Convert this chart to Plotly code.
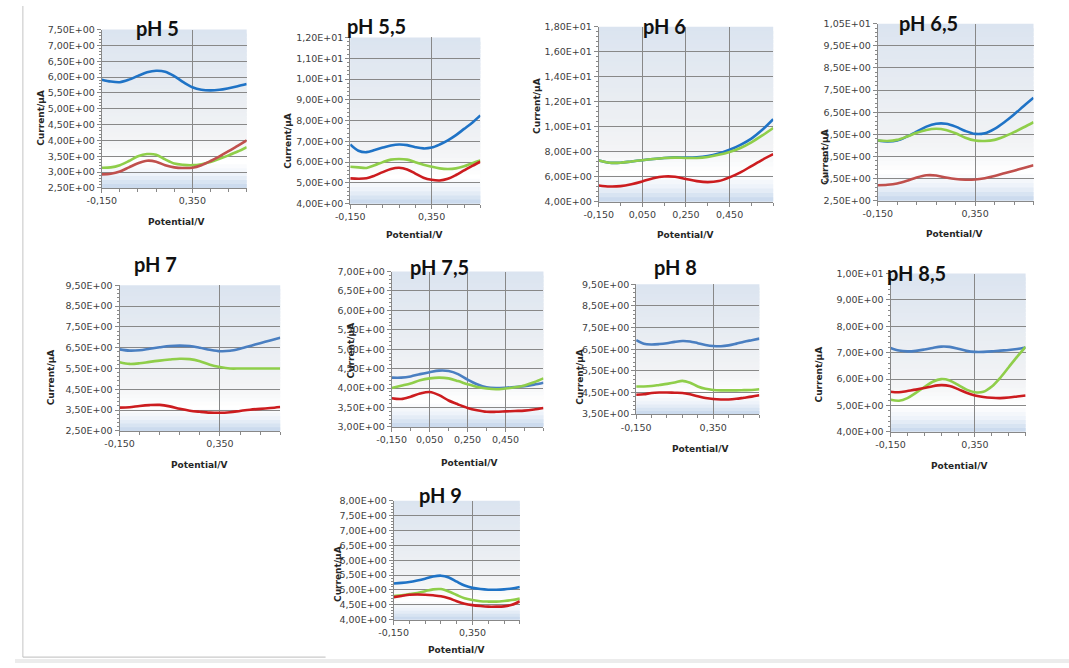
import plotly.graph_objects as go

# Potential sweep shared by every voltammogram (V)
POTENTIAL_V = [-0.15, -0.10, -0.05, 0.00, 0.05, 0.10, 0.15, 0.20, 0.25,
               0.30, 0.35, 0.40, 0.45, 0.50, 0.55, 0.60, 0.65]

# Current (µA) for the three electrodes at each pH
PH5_BLUE = [5.92, 5.86, 5.84, 5.92, 6.04, 6.15, 6.20, 6.17, 6.03, 5.84, 5.68, 5.60, 5.58, 5.60, 5.65, 5.71, 5.78]
PH5_GREEN = [3.14, 3.15, 3.22, 3.35, 3.50, 3.57, 3.55, 3.40, 3.27, 3.23, 3.22, 3.25, 3.32, 3.42, 3.53, 3.65, 3.79]
PH5_RED = [2.93, 2.95, 3.02, 3.15, 3.28, 3.36, 3.33, 3.22, 3.15, 3.13, 3.14, 3.22, 3.35, 3.50, 3.66, 3.83, 4.00]

PH55_BLUE = [6.85, 6.55, 6.48, 6.58, 6.70, 6.80, 6.85, 6.82, 6.72, 6.66, 6.70, 6.85, 7.05, 7.30, 7.60, 7.90, 8.25]
PH55_GREEN = [5.78, 5.75, 5.72, 5.85, 6.00, 6.12, 6.15, 6.12, 6.00, 5.88, 5.78, 5.70, 5.67, 5.70, 5.80, 5.95, 6.08]
PH55_RED = [5.22, 5.20, 5.22, 5.35, 5.52, 5.67, 5.73, 5.65, 5.45, 5.25, 5.15, 5.12, 5.20, 5.38, 5.60, 5.82, 6.02]

PH6_BLUE = [7.30, 7.12, 7.12, 7.22, 7.32, 7.42, 7.50, 7.55, 7.53, 7.55, 7.65, 7.85, 8.15, 8.55, 9.05, 9.75, 10.60]
PH6_GREEN = [7.30, 7.12, 7.12, 7.22, 7.32, 7.42, 7.50, 7.53, 7.50, 7.50, 7.58, 7.75, 7.98, 8.30, 8.75, 9.30, 9.90]
PH6_RED = [5.30, 5.22, 5.25, 5.40, 5.62, 5.88, 6.02, 6.00, 5.82, 5.65, 5.57, 5.65, 5.95, 6.35, 6.85, 7.35, 7.80]

PH65_BLUE = [5.22, 5.18, 5.22, 5.40, 5.62, 5.85, 5.98, 5.98, 5.85, 5.65, 5.52, 5.55, 5.75, 6.05, 6.40, 6.78, 7.15]
PH65_GREEN = [5.22, 5.20, 5.25, 5.40, 5.57, 5.70, 5.75, 5.70, 5.55, 5.35, 5.22, 5.20, 5.25, 5.40, 5.60, 5.82, 6.05]
PH65_RED = [3.20, 3.22, 3.28, 3.40, 3.55, 3.65, 3.64, 3.55, 3.48, 3.45, 3.46, 3.52, 3.62, 3.74, 3.86, 3.98, 4.10]

PH7_BLUE = [6.42, 6.36, 6.38, 6.45, 6.52, 6.58, 6.60, 6.58, 6.50, 6.40, 6.33, 6.35, 6.45, 6.58, 6.72, 6.85, 6.98]
PH7_GREEN = [5.80, 5.72, 5.75, 5.82, 5.88, 5.93, 5.97, 5.95, 5.85, 5.68, 5.57, 5.50, 5.50, 5.50, 5.50, 5.50, 5.50]
PH7_RED = [3.62, 3.64, 3.70, 3.74, 3.75, 3.68, 3.56, 3.47, 3.42, 3.38, 3.37, 3.40, 3.46, 3.52, 3.56, 3.60, 3.65]

PH75_BLUE = [4.27, 4.27, 4.30, 4.36, 4.41, 4.45, 4.44, 4.36, 4.22, 4.10, 4.02, 4.00, 4.01, 4.03, 4.05, 4.09, 4.14]
PH75_GREEN = [4.00, 4.06, 4.12, 4.20, 4.25, 4.27, 4.25, 4.18, 4.10, 4.03, 3.99, 3.97, 3.99, 4.02, 4.07, 4.15, 4.25]
PH75_RED = [3.74, 3.72, 3.78, 3.86, 3.90, 3.82, 3.68, 3.58, 3.49, 3.43, 3.39, 3.39, 3.40, 3.41, 3.42, 3.45, 3.49]

PH8_BLUE = [6.92, 6.75, 6.72, 6.74, 6.78, 6.84, 6.88, 6.86, 6.78, 6.70, 6.65, 6.64, 6.68, 6.76, 6.85, 6.92, 6.99]
PH8_GREEN = [4.78, 4.78, 4.80, 4.85, 4.90, 4.96, 5.04, 4.95, 4.78, 4.67, 4.62, 4.60, 4.60, 4.60, 4.61, 4.62, 4.65]
PH8_RED = [4.40, 4.42, 4.48, 4.50, 4.50, 4.49, 4.48, 4.42, 4.33, 4.25, 4.20, 4.18, 4.18, 4.21, 4.26, 4.31, 4.37]

PH85_BLUE = [7.18, 7.08, 7.05, 7.07, 7.12, 7.18, 7.23, 7.22, 7.15, 7.07, 7.03, 7.03, 7.05, 7.08, 7.10, 7.14, 7.20]
PH85_GREEN = [5.22, 5.18, 5.28, 5.48, 5.70, 5.90, 6.00, 5.95, 5.78, 5.60, 5.50, 5.52, 5.72, 6.05, 6.45, 6.85, 7.22]
PH85_RED = [5.52, 5.50, 5.55, 5.60, 5.66, 5.73, 5.77, 5.74, 5.62, 5.48, 5.38, 5.32, 5.29, 5.28, 5.30, 5.34, 5.38]

PH9_BLUE = [5.22, 5.24, 5.27, 5.32, 5.38, 5.45, 5.48, 5.42, 5.28, 5.15, 5.07, 5.03, 5.01, 5.01, 5.02, 5.05, 5.10]
PH9_GREEN = [4.80, 4.82, 4.86, 4.90, 4.96, 5.02, 5.03, 4.95, 4.83, 4.72, 4.66, 4.62, 4.61, 4.61, 4.63, 4.66, 4.71]
PH9_RED = [4.76, 4.80, 4.84, 4.85, 4.84, 4.82, 4.79, 4.72, 4.62, 4.54, 4.49, 4.46, 4.44, 4.44, 4.45, 4.50, 4.62]

# Panel titles and axis tick values
PANEL_TITLES = ["pH 5", "pH 5,5", "pH 6", "pH 6,5", "pH 7", "pH 7,5", "pH 8", "pH 8,5", "pH 9"]
X_TICKS_WIDE = [-0.15, 0.35]
X_TICKS_FINE = [-0.15, 0.05, 0.25, 0.45]
PH5_YTICKS = [2.5, 3.0, 3.5, 4.0, 4.5, 5.0, 5.5, 6.0, 6.5, 7.0, 7.5]
PH55_YTICKS = [4, 5, 6, 7, 8, 9, 10, 11, 12]
PH6_YTICKS = [4, 6, 8, 10, 12, 14, 16, 18]
PH65_YTICKS = [2.5, 3.5, 4.5, 5.5, 6.5, 7.5, 8.5, 9.5, 10.5]
PH7_YTICKS = [2.5, 3.5, 4.5, 5.5, 6.5, 7.5, 8.5, 9.5]
PH75_YTICKS = [3.0, 3.5, 4.0, 4.5, 5.0, 5.5, 6.0, 6.5, 7.0]
PH8_YTICKS = [3.5, 4.5, 5.5, 6.5, 7.5, 8.5, 9.5]
PH85_YTICKS = [4, 5, 6, 7, 8, 9, 10]
PH9_YTICKS = [4.0, 4.5, 5.0, 5.5, 6.0, 6.5, 7.0, 7.5, 8.0]

SERIES = [
    (PH5_BLUE, PH5_GREEN, PH5_RED),
    (PH55_BLUE, PH55_GREEN, PH55_RED),
    (PH6_BLUE, PH6_GREEN, PH6_RED),
    (PH65_BLUE, PH65_GREEN, PH65_RED),
    (PH7_BLUE, PH7_GREEN, PH7_RED),
    (PH75_BLUE, PH75_GREEN, PH75_RED),
    (PH8_BLUE, PH8_GREEN, PH8_RED),
    (PH85_BLUE, PH85_GREEN, PH85_RED),
    (PH9_BLUE, PH9_GREEN, PH9_RED),
]
Y_TICKS = [PH5_YTICKS, PH55_YTICKS, PH6_YTICKS, PH65_YTICKS, PH7_YTICKS,
           PH75_YTICKS, PH8_YTICKS, PH85_YTICKS, PH9_YTICKS]
X_TICKS = [X_TICKS_WIDE, X_TICKS_WIDE, X_TICKS_FINE, X_TICKS_WIDE, X_TICKS_WIDE,
           X_TICKS_FINE, X_TICKS_WIDE, X_TICKS_WIDE, X_TICKS_WIDE]

# ---- layout (pixels in a 1069 x 668 page) ----
W, H = 1069, 668
# plot-area boxes: left, top, right, bottom
BOXES = [
    (88, 24, 235, 185), (340, 32, 472, 201), (592, 21, 769, 199), (875, 18, 1033, 198),
    (106, 284, 269, 432), (382, 270, 536, 428), (630, 283, 755, 415), (888, 272, 1025, 433),
    (384, 503, 512, 624),
]
TITLE_POS = [(145, 22), (367, 20), (659, 20), (927, 17), (143, 262), (431, 265),
             (670, 265), (914, 271), (432, 497)]
YTITLE_POS = [(27, 114), (277, 137), (530, 102), (822, 153), (36, 377), (341, 350),
              (573, 377), (815, 375), (328, 577)]
XTITLE_POS = [(163, 220), (405, 233), (680, 233), (952, 232), (187, 467), (460, 465),
              (695, 450), (957, 468), (447, 655)]

BLUE, BLUE_SOFT = "#1f73c6", "#4a7fc1"
GREEN = "#8fce4a"
RED, RED_SOFT = "#cc1c1f", "#c0504d"
LINE_COLORS = [
    (BLUE, GREEN, RED_SOFT), (BLUE, GREEN, RED), (BLUE, GREEN, RED), (BLUE, GREEN, RED_SOFT),
    (BLUE_SOFT, GREEN, RED), (BLUE_SOFT, GREEN, RED), (BLUE_SOFT, GREEN, RED),
    (BLUE_SOFT, GREEN, RED), (BLUE, GREEN, RED),
]

AXIS_GREY = "#888888"
TICK_FONT = dict(family="DejaVu Sans", size=9.5, color="#404040")
LABEL_FONT = dict(family="DejaVu Sans", size=9, color="#262626")

# plot-area fill: pale blue at the top, fading to white, blue band at the base
GRADIENT = [(0.0, (219, 228, 240)), (0.5, (236, 239, 243)), (0.7, (243, 244, 246)),
            (0.84, (255, 255, 255)), (0.92, (236, 242, 249)), (1.0, (198, 215, 236))]


def grad_color(t):
    for (t0, c0), (t1, c1) in zip(GRADIENT[:-1], GRADIENT[1:]):
        if t0 <= t <= t1:
            f = (t - t0) / (t1 - t0)
            r, g, b = (round(a + (bb - a) * f) for a, bb in zip(c0, c1))
            return f"rgb({r},{g},{b})"
    return "rgb(255,255,255)"


def ytick_text(v):
    return f"{v:.2E}".replace(".", ",")


def xtick_text(v):
    return f"{v:.3f}".replace(".", ",")


def px_x(x):
    return x / W


def px_y(y):
    return 1 - y / H


fig = go.Figure()
shapes = []
annotations = []

for i in range(9):
    n = i + 1
    xa = "x" if n == 1 else f"x{n}"
    ya = "y" if n == 1 else f"y{n}"
    left, top, right, bottom = BOXES[i]
    yt = Y_TICKS[i]
    xt = X_TICKS[i]
    ystep = yt[1] - yt[0]

    for values, color in zip(SERIES[i], LINE_COLORS[i]):
        fig.add_trace(go.Scatter(
            x=POTENTIAL_V, y=values, xaxis=xa, yaxis=ya, mode="lines",
            line=dict(color=color, width=2.6, shape="spline", smoothing=0.9),
            showlegend=False, hoverinfo="skip",
        ))

    fig.layout[f"xaxis{'' if n == 1 else n}"] = dict(
        domain=[px_x(left), px_x(right)], anchor=ya, range=[-0.15, 0.65],
        tickmode="array", tickvals=xt, ticktext=[xtick_text(v) for v in xt],
        showgrid=True, gridcolor=AXIS_GREY, gridwidth=1,
        showline=True, linecolor=AXIS_GREY, linewidth=1,
        ticks="outside", ticklen=4, tickcolor=AXIS_GREY, tickfont=TICK_FONT,
        minor=dict(tickmode="linear", tick0=-0.15, dtick=0.1, ticks="outside",
                   ticklen=3, tickcolor=AXIS_GREY, showgrid=False),
        zeroline=False, fixedrange=True,
    )
    fig.layout[f"yaxis{'' if n == 1 else n}"] = dict(
        domain=[px_y(bottom), px_y(top)], anchor=xa, range=[yt[0], yt[-1]],
        tickmode="array", tickvals=yt, ticktext=[ytick_text(v) for v in yt],
        showgrid=True, gridcolor=AXIS_GREY, gridwidth=1,
        showline=True, linecolor=AXIS_GREY, linewidth=1,
        ticks="outside", ticklen=4, tickcolor=AXIS_GREY, tickfont=TICK_FONT,
        minor=dict(tickmode="linear", tick0=yt[0], dtick=ystep / 5, ticks="outside",
                   ticklen=2, tickcolor=AXIS_GREY, showgrid=False),
        zeroline=False, fixedrange=True,
    )

    # gradient background: overlapping bands, painted top-down, so no seams show
    nb = 40
    for k in range(nb):
        shapes.append(dict(
            type="rect", xref=f"{xa} domain", yref=f"{ya} domain",
            x0=0, x1=1, y0=max(0.0, 1 - (k + 1.8) / nb), y1=1 - k / nb,
            fillcolor=grad_color((k + 0.5) / nb), line=dict(width=0), layer="below",
        ))

    tx, ty = TITLE_POS[i]
    annotations.append(dict(
        text=f"<b>{PANEL_TITLES[i]}</b>", x=px_x(tx), y=px_y(ty), xref="paper", yref="paper",
        xanchor="center", yanchor="middle", showarrow=False,
        font=dict(family="Lato", size=20, color="#111111"),
    ))
    yx, yy = YTITLE_POS[i]
    annotations.append(dict(
        text="<b>Current/µA</b>", x=px_x(yx), y=px_y(yy), xref="paper", yref="paper",
        xanchor="center", yanchor="middle", showarrow=False, textangle=-90, font=LABEL_FONT,
    ))
    xx, xy = XTITLE_POS[i]
    annotations.append(dict(
        text="<b>Potential/V</b>", x=px_x(xx), y=px_y(xy), xref="paper", yref="paper",
        xanchor="center", yanchor="middle", showarrow=False, font=LABEL_FONT,
    ))

# page frame: thin left rule, base rule and a pale strip along the bottom
shapes.append(dict(type="line", xref="paper", yref="paper", x0=px_x(8), x1=px_x(8),
                   y0=px_y(0), y1=px_y(662), line=dict(color="#c4c4c4", width=1)))
shapes.append(dict(type="line", xref="paper", yref="paper", x0=px_x(8), x1=px_x(315),
                   y0=px_y(662), y1=px_y(662), line=dict(color="#bdbdbd", width=1)))
shapes.append(dict(type="rect", xref="paper", yref="paper", x0=0, x1=1,
                   y0=0, y1=px_y(664), fillcolor="#ececec", line=dict(width=0), layer="below"))

fig.update_layout(
    width=W, height=H, margin=dict(l=0, r=0, t=0, b=0),
    paper_bgcolor="white", plot_bgcolor="rgba(0,0,0,0)",
    shapes=shapes, annotations=annotations, showlegend=False,
)

fig.write_html("out.html", config=dict(displayModeBar=False))
